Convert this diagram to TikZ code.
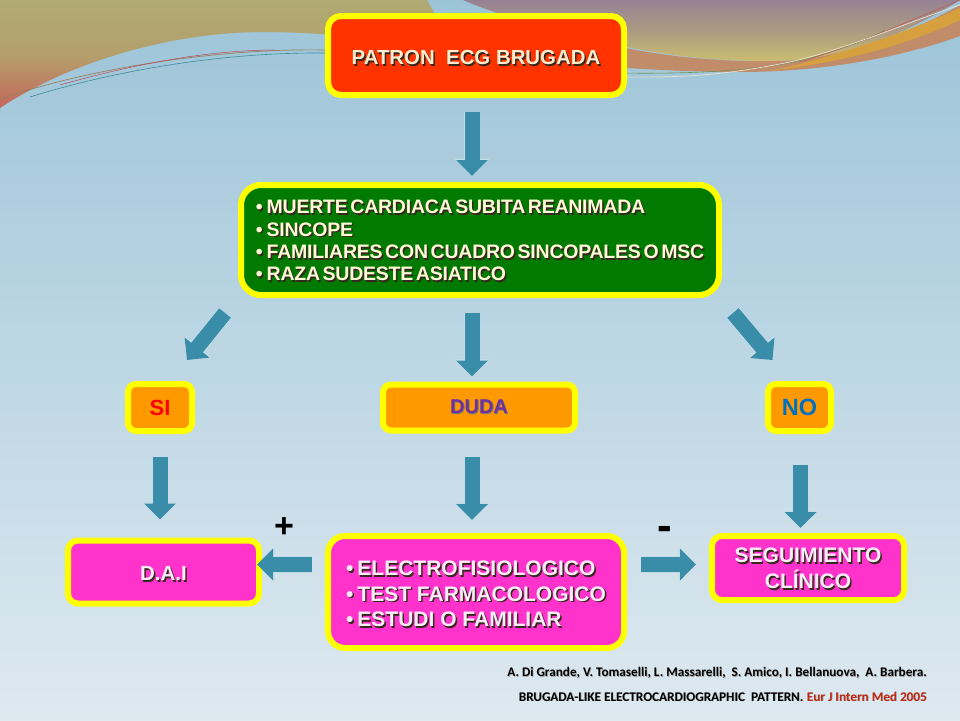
\documentclass[tikz,border=0pt]{standalone}
\usepackage{fontspec}
\setmainfont{Liberation Sans}
\newfontfamily\tightf[LetterSpace=-1.2]{Liberation Sans}
\newfontfamily\citef{Carlito}
\usetikzlibrary{arrows.meta}
\definecolor{bgtop}{RGB}{156,196,216}
\definecolor{bgmid}{RGB}{184,214,228}
\definecolor{bgbot}{RGB}{222,233,240}
\definecolor{flowc}{RGB}{58,141,168}
\definecolor{flowe}{RGB}{196,222,232}
\definecolor{ybord}{RGB}{255,255,0}
\definecolor{redf}{RGB}{255,51,0}
\definecolor{greenf}{RGB}{0,122,0}
\definecolor{orangef}{RGB}{255,153,0}
\definecolor{pinkf}{RGB}{255,51,204}
\definecolor{cream}{RGB}{255,236,205}
\definecolor{ivory}{RGB}{255,250,215}
\definecolor{pale}{RGB}{252,236,250}
\definecolor{shad}{RGB}{55,40,30}
\definecolor{violett}{RGB}{112,48,160}
\definecolor{blueno}{RGB}{0,112,192}
\definecolor{refred}{RGB}{192,40,20}
\newcommand\shd[2]{\leavevmode\rlap{\kern1.5pt\raisebox{-1.5pt}{\textcolor{shad}{#2}}}\textcolor{#1}{#2}}
\newcommand\shl[2]{\leavevmode\rlap{\kern0.7pt\raisebox{-0.7pt}{\textcolor{black!35}{#2}}}\textcolor{#1}{#2}}
\newcommand\ts{\hspace{2.6pt}}
\tikzset{
  box/.style={draw=ybord,line width=6pt,rounded corners=13pt,inner sep=0pt,align=center},
  flow/.style={line width=15pt,draw=flowc,-{Triangle[width=31pt,length=16pt]},
    preaction={draw=flowe,line width=16.5pt,-{Triangle[width=34pt,length=17.5pt]}}},
}
\begin{document}
\begin{tikzpicture}[x=1pt,y=-1pt]
\useasboundingbox (0,0) rectangle (960,720);
% background
\shade[top color=bgtop,middle color=bgmid,bottom color=bgbot] (0,0) rectangle (960,720);
% left swoosh
\begin{scope}
\clip (0,0) -- (0,108) .. controls (60,68) and (160,32) .. (265,32) .. controls (320,32) and (380,40) .. (450,40) -- (427,0) -- cycle;
\shade[top color={rgb,255:red,176;green,170;blue,115},bottom color={rgb,255:red,198;green,100;blue,90},middle color={rgb,255:red,180;green,160;blue,108}] (0,0) rectangle (500,110);
\end{scope}
% right swoosh
\begin{scope}
\clip (463,0) .. controls (490,12) and (560,35) .. (627,47) .. controls (700,62) and (760,62) .. (800,60) .. controls (860,55) and (920,25) .. (960,0) -- cycle;
\shade[top color={rgb,255:red,150;green,130;blue,148},bottom color={rgb,255:red,204;green,190;blue,112},middle color={rgb,255:red,172;green,155;blue,130}] (460,0) rectangle (960,62);
\end{scope}
% brown band
\fill[color={rgb,255:red,192;green,140;blue,105}] (600,42) .. controls (660,58) and (740,64) .. (800,60) .. controls (860,52) and (920,28) .. (960,5)
  -- (960,36) .. controls (900,58) and (820,72) .. (740,72) .. controls (700,72) and (650,70) .. (600,66) -- cycle;
% orange band
\fill[color={rgb,255:red,214;green,160;blue,62}] (770,71) .. controls (830,58) and (900,35) .. (960,8) -- (960,20) .. controls (900,48) and (840,62) .. (770,71) -- cycle;
% thin lines
\draw[color={rgb,255:red,150;green,130;blue,90},line width=.7pt] (0,99) .. controls (90,68) and (220,48) .. (325,50);
\draw[color={rgb,255:red,190;green,70;blue,90},line width=.5pt] (60,85) .. controls (120,68) and (200,50) .. (275,50);
\draw[color={rgb,255:red,60;green,140;blue,150},line width=.6pt] (30,97) .. controls (100,75) and (210,52) .. (325,53);
\draw[color={rgb,255:red,110;green,150;blue,90},line width=.6pt] (620,73) .. controls (680,74) and (760,72) .. (810,58) .. controls (850,47) and (870,38) .. (885,30);
\draw[color={rgb,255:red,190;green,90;blue,80},line width=.6pt] (800,62) .. controls (850,47) and (900,25) .. (960,0);
\draw[color={rgb,255:red,235;green,225;blue,215},line width=.7pt] (620,77) .. controls (690,78) and (730,74) .. (790,62) .. controls (850,48) and (900,25) .. (960,5);
% nodes
\node[box,fill=redf,minimum width=296pt,minimum height=79pt,font=\fontsize{20.4}{24}\selectfont\bfseries] (ecg) at (476,55.5)
  {\rule{0pt}{20pt}\shd{cream}{PATRON\ \ ECG BRUGADA}};
\node[box,fill=greenf,minimum width=478pt,minimum height=110pt,rounded corners=20pt,align=left,font=\tightf\fontsize{19.5}{22.3}\selectfont\bfseries] (crit) at (480,240)
  {\rule{0pt}{16.5pt}\shd{ivory}{•\hspace{4pt}MUERTE\ts CARDIACA\ts SUBITA\ts REANIMADA}\\
   \shd{ivory}{•\hspace{4pt}SINCOPE}\\
   \shd{ivory}{•\hspace{4pt}FAMILIARES\ts CON\ts CUADRO\ts SINCOPALES\ts O\ts MSC}\\
   \shd{ivory}{•\hspace{4pt}RAZA\ts SUDESTE\ts ASIATICO}};
\node[box,fill=orangef,minimum width=64pt,minimum height=47pt,rounded corners=8pt,font=\fontsize{22}{24}\selectfont\bfseries] (si) at (160,407.5)
  {\textcolor{red}{SI}};
\node[box,fill=orangef,minimum width=192pt,minimum height=46pt,rounded corners=8pt,font=\fontsize{20}{22}\selectfont\bfseries] (duda) at (479,407.5)
  {\rlap{\kern1pt\raisebox{-1pt}{\textcolor{black!55}{DUDA}}}\textcolor{violett}{DUDA}};
\node[box,fill=orangef,minimum width=63pt,minimum height=47pt,rounded corners=8pt,font=\fontsize{23.5}{25}\selectfont\bfseries] (no) at (799.5,407.5)
  {\textcolor{blueno}{NO}};
\node[box,fill=pinkf,minimum width=191pt,minimum height=63pt,rounded corners=10pt,font=\fontsize{20.5}{24}\selectfont\bfseries] (dai) at (163.5,572)
  {\rule{0pt}{19pt}\shd{pale}{D.A.I}};
\node[box,fill=pinkf,minimum width=296pt,minimum height=112pt,rounded corners=17pt,align=left,font=\fontsize{21}{25.5}\selectfont\bfseries] (tests) at (476,592)
  {\rule{0pt}{20pt}\shd{pale}{•\hspace{4pt}ELECTROFISIOLOGICO}\\
   \shd{pale}{•\hspace{4pt}TEST FARMACOLOGICO}\\
   \shd{pale}{•\hspace{4pt}ESTUDI O FAMILIAR}};
\node[box,fill=pinkf,minimum width=192pt,minimum height=64pt,rounded corners=10pt,font=\fontsize{21}{26}\selectfont\bfseries] (seg) at (808,568)
  {\rule{0pt}{17pt}\shd{pale}{SEGUIMIENTO}\\\shd{pale}{CLÍNICO}};
\node[font=\fontsize{34}{36}\selectfont\bfseries,inner sep=0pt] (plus) at (284,528) {+};
\node[font=\fontsize{44}{46}\selectfont\bfseries,inner sep=0pt] (minus) at (665,533) {-};
\node[anchor=east,inner sep=0pt,font=\citef\fontsize{13.2}{15}\selectfont\bfseries] (ref1) at (927,673)
  {\shl{black}{A. Di Grande, V. Tomaselli, L. Massarelli,\ \ S. Amico, I. Bellanuova,\ \ A. Barbera.}};
\node[anchor=east,inner sep=0pt,font=\citef\fontsize{13.2}{15}\selectfont\bfseries] (ref2) at (927,697)
  {\shl{black}{BRUGADA-LIKE ELECTROCARDIOGRAPHIC\ \ PATTERN.}\hspace{3.5pt}\shl{refred}{Eur J Intern Med 2005}};
% connectors
\draw[flow] ([xshift=-4pt,yshift=-14pt]ecg.south) -- ([xshift=-8pt,yshift=6pt]crit.north);
\draw[flow] ([xshift=-8pt,yshift=-15pt]crit.south) -- ([xshift=-7pt,yshift=5pt]duda.north);
\draw[flow] ([xshift=-255pt,yshift=-15pt]crit.south) -- ([xshift=27pt,yshift=21pt]si.north);
\draw[flow] ([xshift=253pt,yshift=-15pt]crit.south) -- ([xshift=-27pt,yshift=21pt]no.north);
\draw[flow] ([yshift=-23pt]si.south) -- ([xshift=-3.5pt,yshift=18pt]dai.north);
\draw[flow] ([xshift=-7pt,yshift=-23pt]duda.south) -- ([xshift=-4pt,yshift=13pt]tests.north);
\draw[flow] ([xshift=1pt,yshift=-31pt]no.south) -- ([xshift=-7.5pt,yshift=5pt]seg.north);
\draw[flow] ([xshift=-13pt,yshift=27.5pt]tests.west) -- ([xshift=-5pt,yshift=7.5pt]dai.east);
\draw[flow] ([xshift=14pt,yshift=27.5pt]tests.east) -- ([xshift=-13pt,yshift=3.5pt]seg.west);
\end{tikzpicture}
\end{document}
